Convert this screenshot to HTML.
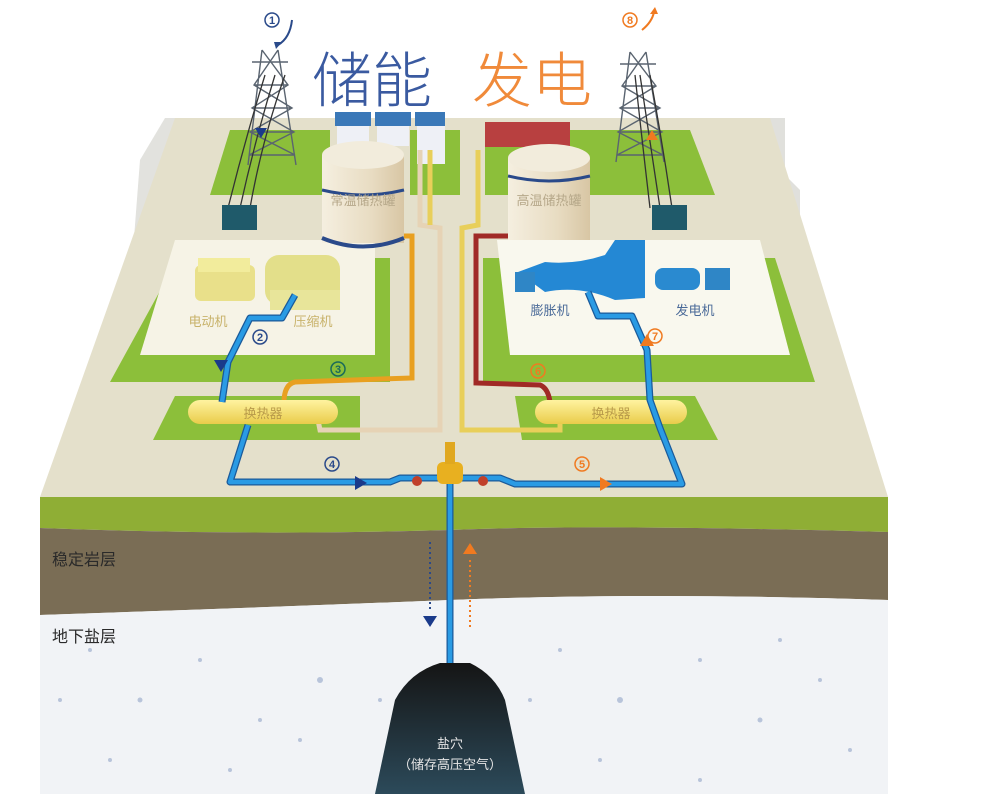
<!DOCTYPE html>
<html><head><meta charset="utf-8"><style>
html,body{margin:0;padding:0;background:#fff;}
svg{display:block;}
text{font-family:"Liberation Sans","Noto Sans CJK SC",sans-serif;}
</style></head><body>
<svg width="996" height="794" viewBox="0 0 996 794" xmlns="http://www.w3.org/2000/svg">
<defs>
<linearGradient id="cave" x1="0" y1="0" x2="0" y2="1"><stop offset="0" stop-color="#151515"/><stop offset="1" stop-color="#2c4a5a"/></linearGradient>
<linearGradient id="tank" x1="0" y1="0" x2="1" y2="0"><stop offset="0" stop-color="#f5efe0"/><stop offset="0.6" stop-color="#e8dcc2"/><stop offset="1" stop-color="#d8c6a4"/></linearGradient>
<linearGradient id="hx" x1="0" y1="0" x2="0" y2="1"><stop offset="0" stop-color="#fff3a0"/><stop offset="1" stop-color="#e9cc4a"/></linearGradient>
</defs>
<!-- side walls -->
<polygon points="140,160 165,118 175,118 175,300 130,300 130,290" fill="#e2e2de"/>
<polygon points="740,118 785,118 785,175 800,190 800,260 810,270 810,350 740,350" fill="#e0e0dc"/>
<!-- platform top -->
<polygon points="175,118 770,118 888,497 40,497" fill="#e4e0cb"/>
<!-- front layers -->
<path d="M40,497 L888,497 L888,532 Q600,524 450,530 Q250,536 40,528 Z" fill="#8fae35"/>
<path d="M40,528 Q250,536 450,530 Q600,524 888,532 L888,600 Q650,592 450,600 Q250,608 40,615 Z" fill="#7a6d55"/>
<path d="M40,615 Q250,608 450,600 Q650,592 888,600 L888,794 L40,794 Z" fill="#f1f3f6"/>
<g fill="#b8c4da">
<circle cx="90" cy="650" r="2"/><circle cx="140" cy="700" r="2.5"/><circle cx="200" cy="660" r="2"/><circle cx="260" cy="720" r="2"/><circle cx="320" cy="680" r="3"/><circle cx="380" cy="700" r="2"/><circle cx="560" cy="650" r="2"/><circle cx="620" cy="700" r="3"/><circle cx="700" cy="660" r="2"/><circle cx="760" cy="720" r="2.5"/><circle cx="820" cy="680" r="2"/><circle cx="850" cy="750" r="2"/><circle cx="110" cy="760" r="2"/><circle cx="230" cy="770" r="2"/><circle cx="600" cy="760" r="2"/><circle cx="700" cy="780" r="2"/><circle cx="530" cy="700" r="2"/><circle cx="60" cy="700" r="2"/><circle cx="300" cy="740" r="2"/><circle cx="780" cy="640" r="2"/>
</g>
<!-- top green patches -->
<polygon points="230,130 330,130 330,195 210,195" fill="#8cbf3a"/>
<polygon points="410,130 460,130 460,195 410,195" fill="#8cbf3a"/>
<polygon points="485,130 690,130 715,195 485,195" fill="#8cbf3a"/>
<!-- left areas -->
<polygon points="178,258 390,258 390,382 110,382" fill="#8cbf3a"/>
<polygon points="175,240 375,240 375,355 140,355" fill="#f6f3e6"/>
<polygon points="175,396 360,396 360,440 153,440" fill="#8cbf3a"/>
<!-- right areas -->
<polygon points="483,258 775,258 815,382 483,382" fill="#8cbf3a"/>
<polygon points="497,240 760,240 790,355 510,355" fill="#f9f8ee"/>
<polygon points="515,396 695,396 718,440 522,440" fill="#8cbf3a"/>
<!-- buildings -->
<g fill="#3a78b8"><rect x="335" y="112" width="36" height="14"/><rect x="375" y="112" width="36" height="14"/><rect x="415" y="112" width="30" height="14"/></g>
<g fill="#eef0f6"><rect x="337" y="126" width="32" height="20"/><rect x="377" y="126" width="32" height="20"/><rect x="417" y="126" width="28" height="38"/></g>
<rect x="485" y="122" width="85" height="25" fill="#b84040"/>
<!-- tanks -->
<rect x="322" y="155" width="82" height="88" fill="url(#tank)"/>
<ellipse cx="363" cy="155" rx="41" ry="14" fill="#f2ecdc"/>
<path d="M322,190 Q363,200 404,190" stroke="#2a4a8a" stroke-width="3" fill="none"/>
<path d="M322,238 Q363,255 404,238" stroke="#2a4a8a" stroke-width="4" fill="none"/>
<rect x="508" y="158" width="82" height="82" fill="url(#tank)"/>
<ellipse cx="549" cy="158" rx="41" ry="14" fill="#f2ecdc"/>
<path d="M508,176 Q549,186 590,176" stroke="#2a4a8a" stroke-width="3" fill="none"/>
<text x="363" y="205" font-size="13" fill="#b6a88a" text-anchor="middle">常温储热罐</text>
<text x="549" y="205" font-size="13" fill="#b6a88a" text-anchor="middle">高温储热罐</text>
<!-- central yellow/tan pipes -->
<path d="M420,150 L420,225 L440,228 L440,430 L320,430 L318,420" stroke="#e6d3b5" stroke-width="5" fill="none"/>
<path d="M478,150 L478,225 L462,228 L462,430 L560,430 L560,420" stroke="#e8cf5a" stroke-width="5" fill="none"/>
<path d="M430,150 L430,225" stroke="#e8cf5a" stroke-width="5"/>
<!-- orange pipe -->
<path d="M404,236 L412,236 L412,378 L295,382 Q285,384 284,400" stroke="#e8a020" stroke-width="5" fill="none"/>
<!-- red pipe -->
<path d="M508,236 L476,236 L476,383 L540,385 Q548,388 550,402" stroke="#a02a26" stroke-width="5" fill="none"/>
<!-- machines -->
<rect x="195" y="265" width="60" height="36" rx="6" fill="#e9e08a"/>
<rect x="198" y="258" width="52" height="14" fill="#f2ec9c"/>
<rect x="265" y="255" width="75" height="50" rx="14" fill="#e3df8a"/>
<rect x="270" y="290" width="70" height="20" fill="#e8e59a"/>
<text x="208" y="326" font-size="13" fill="#c8b26a" text-anchor="middle">电动机</text>
<text x="313" y="326" font-size="13" fill="#c8b26a" text-anchor="middle">压缩机</text>
<path d="M518,272 L545,262 Q575,265 605,255 L615,240 L645,240 L645,298 L615,300 Q580,285 545,292 Z" fill="#2488d4"/>
<rect x="515" y="272" width="20" height="20" fill="#2f86c6"/>
<rect x="655" y="268" width="45" height="22" rx="8" fill="#2a8ad0"/>
<rect x="705" y="268" width="25" height="22" fill="#2f86c6"/>
<text x="550" y="315" font-size="13" fill="#4a6a98" text-anchor="middle">膨胀机</text>
<text x="695" y="315" font-size="13" fill="#4a6a98" text-anchor="middle">发电机</text>
<!-- heat exchangers -->
<rect x="188" y="400" width="150" height="24" rx="12" fill="url(#hx)"/>
<text x="263" y="418" font-size="13" fill="#b89a4a" text-anchor="middle">换热器</text>
<rect x="535" y="400" width="152" height="24" rx="12" fill="url(#hx)"/>
<text x="611" y="418" font-size="13" fill="#b89a4a" text-anchor="middle">换热器</text>
<!-- blue pipes -->
<g stroke="#1a5a9a" stroke-width="7" fill="none" stroke-linejoin="round">
<path d="M295,295 L282,318 L250,318 L228,362 L222,402"/>
<path d="M248,425 L230,482 L390,482 L400,478 L500,478 L515,484 L682,484 L660,428 L650,400 L647,350 L632,316 L598,316 L588,292"/>
<path d="M450,482 L450,663"/>
</g>
<g stroke="#2a9be4" stroke-width="4.5" fill="none" stroke-linejoin="round">
<path d="M295,295 L282,318 L250,318 L228,362 L222,402"/>
<path d="M248,425 L230,482 L390,482 L400,478 L500,478 L515,484 L682,484 L660,428 L650,400 L647,350 L632,316 L598,316 L588,292"/>
<path d="M450,482 L450,663"/>
</g>
<!-- valve -->
<rect x="437" y="462" width="26" height="22" rx="6" fill="#e8b020"/>
<rect x="445" y="442" width="10" height="22" fill="#e0a820"/>
<circle cx="417" cy="481" r="5" fill="#c0402a"/><circle cx="483" cy="481" r="5" fill="#c0402a"/>
<!-- arrows -->
<polygon points="355,476 367,483 355,490" fill="#1a3a8a"/>
<polygon points="600,477 612,484 600,491" fill="#f07a20"/>
<polygon points="214,360 228,360 221,372" fill="#1a3a8a"/>
<polygon points="640,346 654,346 647,334" fill="#f07a20"/>
<polygon points="423,616 437,616 430,627" fill="#1a3a8a"/>
<polygon points="463,554 477,554 470,543" fill="#f07a20"/>
<line x1="430" y1="542" x2="430" y2="612" stroke="#2a4a8a" stroke-width="2" stroke-dasharray="2,3"/>
<line x1="470" y1="560" x2="470" y2="628" stroke="#f07a20" stroke-width="2" stroke-dasharray="2,3"/>
<!-- cave -->
<path d="M440,663 L470,663 Q495,675 505,700 L525,794 L375,794 L395,700 Q410,672 440,663 Z" fill="url(#cave)"/>
<text x="450" y="748" font-size="13" fill="#e6e6e6" text-anchor="middle">盐穴</text>
<text x="450" y="769" font-size="13" fill="#e6e6e6" text-anchor="middle">（储存高压空气）</text>
<!-- layer labels -->
<text x="52" y="565" font-size="16" fill="#2a2a2a">稳定岩层</text>
<text x="52" y="642" font-size="16" fill="#2a2a2a">地下盐层</text>
<!-- towers -->
<g stroke="#5a6470" stroke-width="1.4" fill="none">
<path d="M262,50 L248,165 M278,50 L296,165 M252,62 L288,62 M254,85 L288,85 M252,108 L292,108 M250,132 L294,132 M249,155 L295,155 M262,50 L288,85 L252,108 L294,132 L249,155 M278,50 L254,85 L292,108 L250,132 L295,155"/>
<path d="M630,52 L616,162 M646,52 L664,162 M620,64 L656,64 M622,86 L656,86 M620,108 L660,108 M618,132 L662,132 M617,155 L663,155 M630,52 L656,86 L620,108 L662,132 L617,155 M646,52 L622,86 L660,108 L618,132 L663,155"/>
</g>
<g stroke="#333" stroke-width="1.3" fill="none">
<path d="M265,75 Q245,140 228,208 M275,75 Q255,140 240,208 M285,75 Q262,140 250,208"/>
<path d="M640,75 Q650,140 660,208 M650,75 Q662,140 672,208 M635,75 Q642,140 650,208"/>
</g>
<rect x="222" y="205" width="35" height="25" fill="#1f5a6a"/>
<rect x="652" y="205" width="35" height="25" fill="#1f5a6a"/>
<polygon points="255,128 267,128 261,138" fill="#1a3a8a"/>
<polygon points="646,140 658,140 652,130" fill="#f07a20"/>
<!-- numbered circles -->
<g font-size="11" font-weight="bold" text-anchor="middle">
<circle cx="272" cy="20" r="7" fill="none" stroke="#2a4a8a" stroke-width="1.5"/><text x="272" y="24" fill="#2a4a8a">1</text>
<circle cx="260" cy="337" r="7" fill="none" stroke="#2a4a8a" stroke-width="1.5"/><text x="260" y="341" fill="#2a4a8a">2</text>
<circle cx="338" cy="369" r="7" fill="none" stroke="#1a6a5a" stroke-width="1.5"/><text x="338" y="373" fill="#1a6a5a">3</text>
<circle cx="332" cy="464" r="7" fill="none" stroke="#2a4a8a" stroke-width="1.5"/><text x="332" y="468" fill="#2a4a8a">4</text>
<circle cx="582" cy="464" r="7" fill="none" stroke="#f07a20" stroke-width="1.5"/><text x="582" y="468" fill="#f07a20">5</text>
<circle cx="538" cy="371" r="7" fill="none" stroke="#f07a20" stroke-width="1.5"/><text x="538" y="375" fill="#f07a20">6</text>
<circle cx="655" cy="336" r="7" fill="none" stroke="#f07a20" stroke-width="1.5"/><text x="655" y="340" fill="#f07a20">7</text>
<circle cx="630" cy="20" r="7" fill="none" stroke="#f07a20" stroke-width="1.5"/><text x="630" y="24" fill="#f07a20">8</text>
</g>
<path d="M292,20 Q290,38 278,45" stroke="#2a4a8a" stroke-width="2" fill="none"/>
<polygon points="274,42 282,42 276,49" fill="#2a4a8a"/>
<path d="M642,30 Q652,22 654,12" stroke="#f07a20" stroke-width="2" fill="none"/>
<polygon points="650,14 658,14 655,7" fill="#f07a20"/>
<!-- titles -->
<text x="312" y="102" font-size="60" fill="#3a5aa0" font-weight="300">储能</text>
<text x="472" y="102" font-size="60" fill="#f08a3a" font-weight="300">发电</text>
</svg>
</body></html>
